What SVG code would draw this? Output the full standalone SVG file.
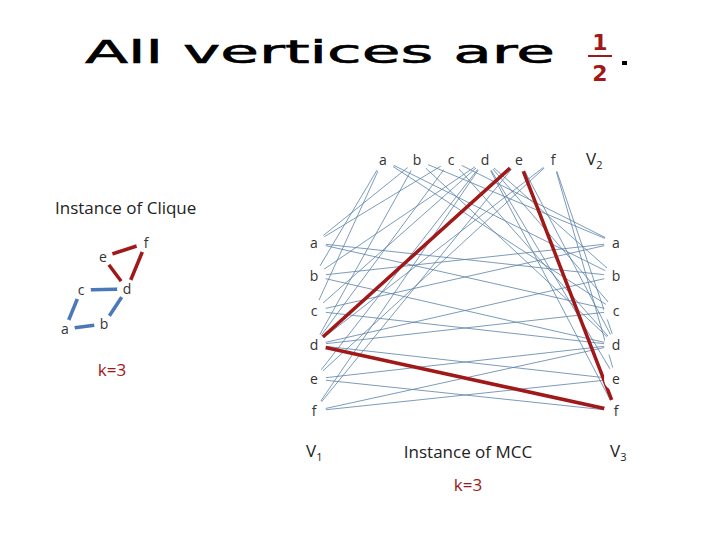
<svg xmlns="http://www.w3.org/2000/svg" width="720" height="540" viewBox="0 0 720 540">
<style>
.n circle{fill:#fff;stroke:none}
.n text{fill:#333;font-family:"Open Sans","Liberation Sans",sans-serif;font-size:14px;text-anchor:middle}
.e{stroke:#5a82a8;stroke-width:0.8;fill:none}
.ge{stroke:#4a78b8;stroke-width:3.5}
.r{stroke:#a01818;stroke-width:3.5;fill:none}
.lbl{font-family:"Open Sans","Liberation Sans",sans-serif;font-size:17px;fill:#222}
</style>
<rect width="720" height="540" fill="#fff"/>
<g id="title">
<text x="85" y="63" font-family="DejaVu Sans,sans-serif" font-size="32" stroke="#000" stroke-width="0.6" textLength="470" lengthAdjust="spacingAndGlyphs" fill="#000">All vertices are</text>
<text x="600" y="50" font-family="DejaVu Sans,sans-serif" font-weight="bold" font-size="22" text-anchor="middle" fill="#a01818">1</text>
<line x1="588" y1="56" x2="612" y2="56" stroke="#a01818" stroke-width="2"/>
<text x="600" y="81" font-family="DejaVu Sans,sans-serif" font-weight="bold" font-size="22" text-anchor="middle" fill="#a01818">2</text>
<rect x="622" y="61" width="5" height="4" fill="#000"/>
</g>
<g id="clique-edges">
<line class="ge" x1="65" y1="329" x2="104" y2="324"/>
<line class="ge" x1="65" y1="329" x2="81" y2="290"/>
<line class="ge" x1="81" y1="290" x2="127" y2="289"/>
<line class="ge" x1="104" y1="324" x2="127" y2="289"/>
<line class="r" x1="103" y1="257" x2="127" y2="289"/>
<line class="r" x1="146" y1="243" x2="127" y2="289"/>
<line class="r" x1="103" y1="257" x2="146" y2="243"/>
</g>
<g class="n">
<g id="ga"><circle cx="65" cy="329" r="10"/><text x="65" y="334">a</text></g>
<g id="gb"><circle cx="104" cy="324" r="10"/><text x="104" y="329">b</text></g>
<g id="gc"><circle cx="81" cy="290" r="10"/><text x="81" y="295">c</text></g>
<g id="gd"><circle cx="127" cy="289" r="10"/><text x="127" y="294">d</text></g>
<g id="ge"><circle cx="103" cy="257" r="10"/><text x="103" y="262">e</text></g>
<g id="gf"><circle cx="146" cy="243" r="10"/><text x="146" y="248">f</text></g>
</g>
<g id="connectors">
<g class="e">
<path d="M314 243L417 160M314 276L383 160M314 243L451 160M314 311L383 160M314 276L485 160M314 345L417 160M314 311L485 160M314 345L451 160M314 345L519 160M314 379L485 160M314 345L553 160M314 411L485 160M314 379L553 160M314 411L519 160"/>
<path d="M616 243L417 160M616 276L383 160M616 243L451 160M616 311L383 160M616 276L485 160M616 345L417 160M616 311L485 160M616 345L451 160M616 345L519 160M616 379L485 160M616 345L553 160M616 411L485 160M616 379L553 160M616 411L519 160"/>
<path d="M314 243L616 276M314 276L616 243M314 243L616 311M314 311L616 243M314 276L616 345M314 345L616 276M314 311L616 345M314 345L616 311M314 345L616 379M314 379L616 345M314 345L616 411M314 411L616 345M314 379L616 411M314 411L616 379"/>
</g>
<path class="r" d="M314 345L519 160L616 411Z"/>
</g>
<g class="n">
<g id="t-a"><circle cx="383" cy="160" r="12"/><text x="383" y="165">a</text></g>
<g id="t-b"><circle cx="417" cy="160" r="12"/><text x="417" y="165">b</text></g>
<g id="t-c"><circle cx="451" cy="160" r="12"/><text x="451" y="165">c</text></g>
<g id="t-d"><circle cx="485" cy="160" r="12"/><text x="485" y="165">d</text></g>
<g id="t-e"><circle cx="519" cy="160" r="12"/><text x="519" y="165">e</text></g>
<g id="t-f"><circle cx="553" cy="160" r="12"/><text x="553" y="165">f</text></g>
<g id="l-a"><circle cx="314" cy="243" r="12"/><text x="314" y="248">a</text></g>
<g id="l-b"><circle cx="314" cy="276" r="12"/><text x="314" y="281">b</text></g>
<g id="l-c"><circle cx="314" cy="311" r="12"/><text x="314" y="316">c</text></g>
<g id="l-d"><circle cx="314" cy="345" r="12"/><text x="314" y="350">d</text></g>
<g id="l-e"><circle cx="314" cy="379" r="12"/><text x="314" y="384">e</text></g>
<g id="l-f"><circle cx="314" cy="411" r="12"/><text x="314" y="416">f</text></g>
<g id="r-a"><circle cx="616" cy="243" r="12"/><text x="616" y="248">a</text></g>
<g id="r-b"><circle cx="616" cy="276" r="12"/><text x="616" y="281">b</text></g>
<g id="r-c"><circle cx="616" cy="311" r="12"/><text x="616" y="316">c</text></g>
<g id="r-d"><circle cx="616" cy="345" r="12"/><text x="616" y="350">d</text></g>
<g id="r-e"><circle cx="616" cy="379" r="12"/><text x="616" y="384">e</text></g>
<g id="r-f"><circle cx="616" cy="411" r="12"/><text x="616" y="416">f</text></g>
</g>
<g id="labels">
<text class="lbl" x="55" y="214">Instance of Clique</text>
<text class="lbl" x="112" y="376" text-anchor="middle" style="fill:#a01818">k=3</text>
<text class="lbl" x="586" y="165">V<tspan font-size="11" dy="4">2</tspan></text>
<text class="lbl" x="306" y="457">V<tspan font-size="11" dy="4">1</tspan></text>
<text class="lbl" x="610" y="457">V<tspan font-size="11" dy="4">3</tspan></text>
<text class="lbl" x="468" y="458" text-anchor="middle">Instance of MCC</text>
<text class="lbl" x="468" y="491" text-anchor="middle" style="fill:#a01818">k=3</text>
</g>
</svg>
